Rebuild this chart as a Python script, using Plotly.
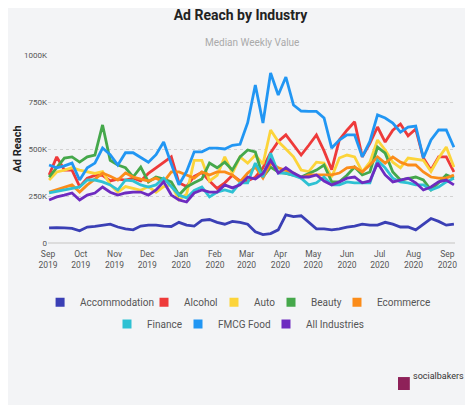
import pandas as pd
import plotly.graph_objects as go

# weekly dates, Sep 2019 - Sep 2020
weeks = pd.date_range("2019-09-02", periods=54, freq="7D")

accommodation = [80, 82, 80, 78, 65, 85, 88, 95, 100, 85, 75, 70, 90, 95, 95, 90, 88, 110, 95, 90,
                 120, 125, 110, 100, 115, 110, 100, 60, 45, 50, 70, 150, 140, 145, 110, 75, 75, 70, 75, 85,
                 90, 100, 95, 95, 110, 100, 85, 85, 70, 100, 130, 115, 95, 100]
alcohol = [362, 458, 388, 388, 300, 345, 360, 360, 330, 340, 335, 345, 330, 370, 400, 430, 458, 320, 300, 355,
           375, 330, 290, 320, 360, 330, 330, 350, 400, 480, 540, 575, 520, 468, 520, 575, 490, 390, 548, 600,
           645, 458, 530, 617, 537, 600, 633, 570, 606, 452, 388, 458, 458, 378]
auto = [335, 378, 388, 400, 388, 378, 370, 380, 310, 270, 300, 290, 280, 300, 270, 300, 310, 230, 260, 440,
        440, 330, 360, 458, 372, 458, 425, 468, 420, 601, 540, 500, 458, 388, 380, 430, 425, 351, 452, 468,
        458, 378, 430, 548, 495, 430, 400, 452, 445, 440, 380, 452, 510, 404]
beauty = [351, 404, 452, 458, 430, 458, 468, 628, 440, 415, 400, 351, 404, 325, 351, 340, 325, 255, 298, 320,
          340, 425, 400, 430, 388, 458, 495, 484, 351, 404, 378, 370, 362, 351, 370, 388, 415, 325, 325, 360,
          404, 362, 378, 510, 478, 378, 335, 345, 351, 335, 282, 320, 362, 345]
ecommerce = [271, 285, 298, 309, 271, 309, 340, 372, 355, 335, 372, 351, 340, 330, 345, 325, 378, 378, 362, 345,
             378, 362, 378, 378, 362, 325, 372, 404, 345, 425, 400, 385, 372, 345, 362, 362, 362, 362, 372, 400,
             404, 378, 415, 458, 425, 458, 430, 415, 415, 378, 351, 345, 345, 362]
finance = [266, 275, 282, 290, 298, 335, 335, 325, 309, 282, 335, 330, 309, 298, 309, 345, 300, 255, 240, 280,
           298, 245, 271, 282, 271, 320, 320, 425, 351, 478, 372, 372, 360, 345, 309, 320, 351, 309, 309, 325,
           320, 320, 320, 440, 400, 345, 325, 320, 309, 309, 282, 298, 325, 345]
fmcg_food = [415, 400, 410, 425, 335, 400, 425, 505, 470, 415, 480, 480, 455, 430, 470, 537, 420, 310, 380, 485,
             485, 505, 505, 500, 520, 525, 640, 840, 638, 904, 787, 883, 734, 702, 700, 700, 665, 505, 548, 575,
             575, 458, 540, 681, 665, 638, 590, 617, 622, 452, 548, 601, 601, 510]
all_industries = [229, 245, 255, 266, 229, 255, 266, 298, 270, 255, 266, 271, 271, 255, 282, 325, 255, 229, 218, 266,
                  282, 271, 271, 309, 293, 309, 351, 340, 370, 440, 372, 400, 372, 351, 351, 362, 330, 309, 325, 345,
                  351, 320, 330, 425, 362, 325, 335, 345, 320, 282, 298, 325, 335, 309]

names = ["Accommodation", "Alcohol", "Auto", "Beauty", "Ecommerce",
         "Finance", "FMCG Food", "All Industries"]
values = [accommodation, alcohol, auto, beauty, ecommerce, finance, fmcg_food, all_industries]
colors = ["#3A3FB5", "#EE3A3A", "#FCD43A", "#45A84B", "#FB8C1A",
          "#2EC1D3", "#2196F3", "#6E2BC0"]

month_ticks = pd.date_range("2019-09-01", "2020-09-01", freq="MS")
month_labels = [d.strftime("%b") + "<br>" + d.strftime("%Y") for d in month_ticks]
y_ticks = [0, 250000, 500000, 750000, 1000000]
y_labels = ["0", "250K", "500K", "750K", "1000K"]

# legend spots (container coords): two centred rows like the original
legend_x = [0.069, 0.2925, 0.443, 0.5656, 0.7075, 0.2129, 0.3656, 0.5548]
legend_y = [0.259, 0.259, 0.259, 0.259, 0.259, 0.204, 0.204, 0.204]

fig = go.Figure()
for i, (name, vals, color) in enumerate(zip(names, values, colors)):
    fig.add_trace(go.Scatter(
        x=weeks, y=[v * 1000 for v in vals], mode="lines", name=name,
        line=dict(color=color, width=2.8), showlegend=False, hoverinfo="skip"))
    leg = "legend" if i == 0 else "legend%d" % (i + 1)
    fig.add_trace(go.Scatter(
        x=[None], y=[None], mode="markers", name=name, legend=leg,
        marker=dict(symbol="square", size=9, color=color)))

bg = "#F3F4F6"
legends = {}
for i in range(len(names)):
    key = "legend" if i == 0 else "legend%d" % (i + 1)
    legends[key] = dict(orientation="h", xref="container", yref="container",
                        x=legend_x[i], xanchor="left", y=legend_y[i], yanchor="middle",
                        font=dict(size=10, color="#555"), bgcolor="rgba(0,0,0,0)")

# page body adds 8px on top/left, so the figure is 8px smaller
fig.update_layout(
    width=465, height=397,
    paper_bgcolor=bg, plot_bgcolor=bg,
    margin=dict(l=40, r=18, t=47, b=162, autoexpand=False),
    font=dict(family="Roboto", color="#444"),
    title=dict(text="<b>Ad Reach by Industry</b>", x=0.5, xanchor="center",
               y=0.982, yanchor="middle", font=dict(size=14, color="#222")),
    showlegend=True,
    **legends,
)
fig.add_annotation(text="Median Weekly Value", xref="paper", yref="paper",
                   x=0.5, y=1.106, showarrow=False, font=dict(size=10, color="#AAAAAA"))

fig.update_xaxes(
    tickvals=month_ticks, ticktext=month_labels, showgrid=False,
    range=["2019-09-01", "2020-09-08"], automargin=False, ticklabelstandoff=4,
    tickfont=dict(size=8.5, color="#555"), ticks="", showline=False, zeroline=False)
fig.update_yaxes(
    range=[0, 1000000], tickvals=y_ticks, ticktext=y_labels, automargin=False,
    tickfont=dict(size=8, color="#555"),
    title=dict(text="<b>Ad Reach</b>", font=dict(size=11, color="#222"), standoff=0),
    showgrid=True, gridcolor="#D2D2D2", griddash="dot", gridwidth=1,
    zeroline=True, zerolinecolor="#DCDCDC", zerolinewidth=2)

# socialbakers mark
fig.add_shape(type="rect", xref="paper", yref="paper",
              x0=0.86, x1=0.889, y0=-0.782, y1=-0.713,
              fillcolor="#8E2159", line=dict(width=0))
fig.add_annotation(text="socialbakers", xref="paper", yref="paper",
                   x=1.027, y=-0.745, xanchor="right", showarrow=False,
                   font=dict(size=9, color="#333"))

fig.write_html("out.html")
